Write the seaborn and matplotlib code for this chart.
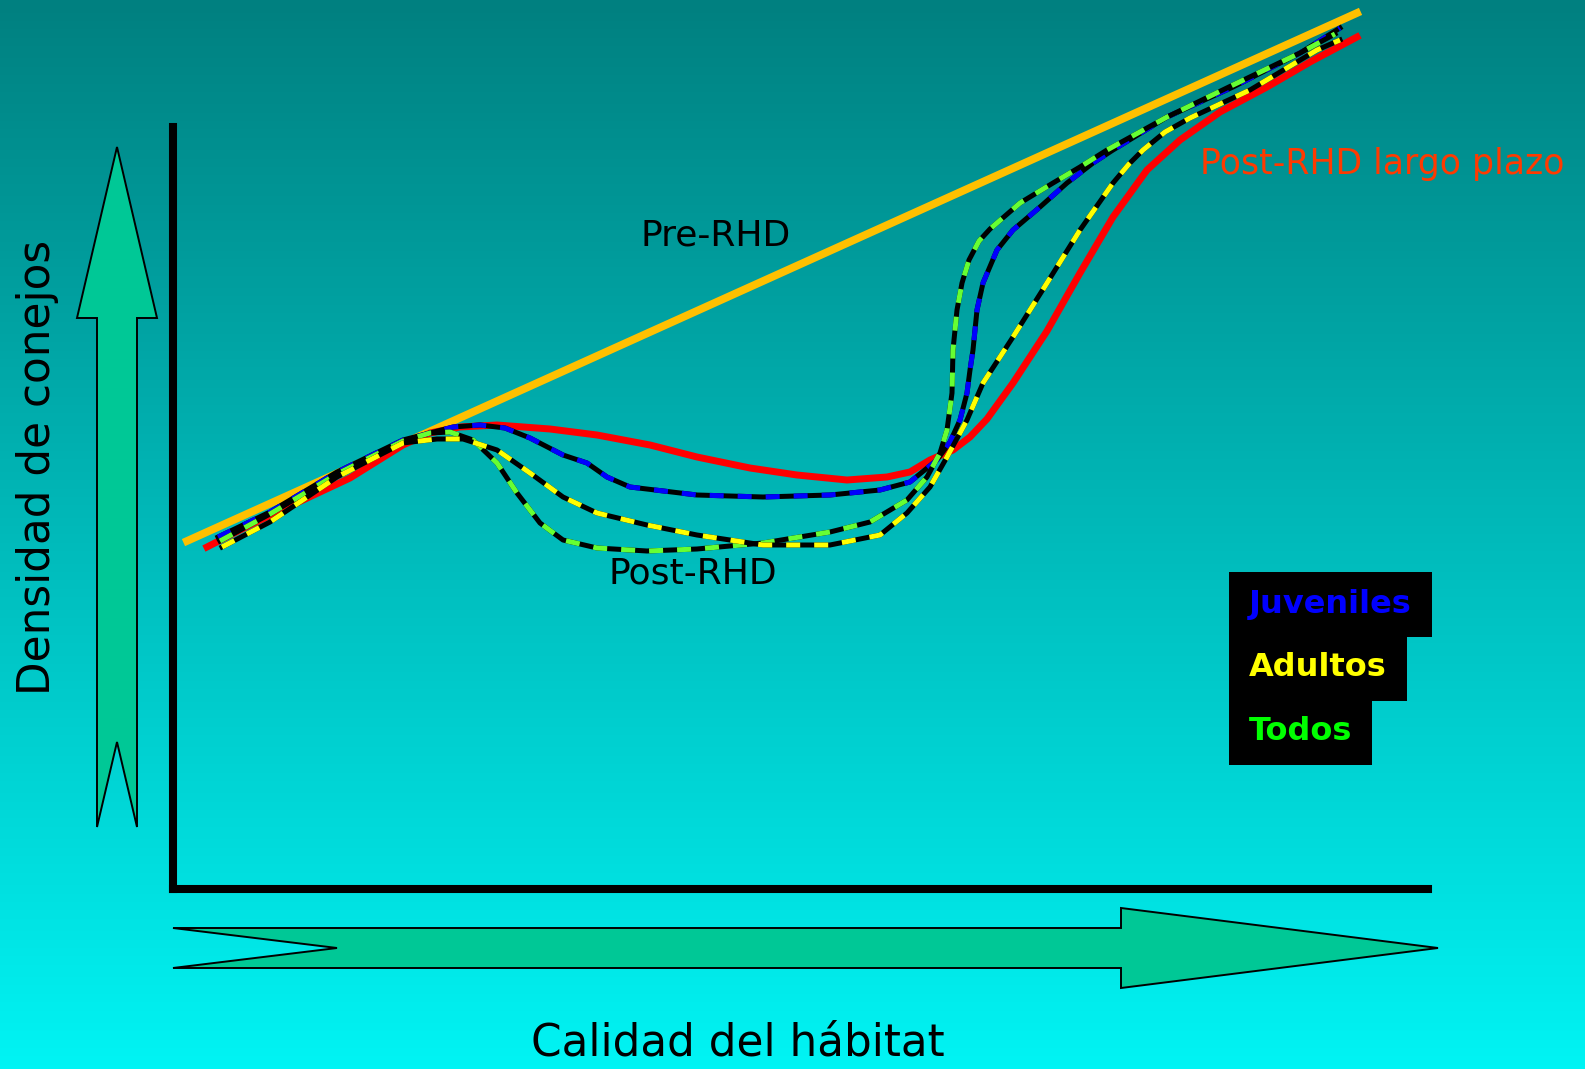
import numpy as np
import seaborn as sns
import matplotlib.pyplot as plt
from matplotlib.patches import Polygon, Rectangle

# habitat quality (x) vs rabbit density (y), arbitrary units
pre_x = [1.4, 118.4]
pre_y = [34.8, 87.6]

largo_x = [3.4, 7.7, 13.0, 17.7, 23.0, 25.7, 28.7, 32.4, 37.7, 42.4, 47.7, 52.4, 57.7, 62.4, 67.4,
           71.4, 73.7, 75.7, 78.0, 79.7, 81.4, 84.0, 87.4, 90.7, 94.0, 97.4, 100.7, 104.7, 109.4, 113.7, 118.4]
largo_y = [34.2, 36.4, 38.9, 41.1, 44.4, 45.6, 46.2, 46.4, 46.0, 45.4, 44.4, 43.2, 42.1, 41.4, 40.9,
           41.2, 41.7, 42.9, 43.9, 45.2, 47.0, 50.6, 55.8, 61.6, 67.2, 71.9, 74.9, 77.7, 80.2, 82.7, 85.2]

juv_x = [4.5, 9.7, 16.4, 23.0, 28.0, 30.7, 33.2, 35.7, 39.0, 41.4, 43.4, 45.7, 52.4, 59.0, 65.7, 70.7,
         73.7, 76.4, 77.7, 78.7, 79.4, 79.7, 80.0, 80.4, 81.0, 82.4, 84.0, 86.7, 89.4, 92.0, 94.0,
         99.4, 106.0, 112.7, 116.7]
juv_y = [35.2, 37.7, 41.7, 44.9, 46.2, 46.4, 46.1, 45.1, 43.4, 42.6, 41.2, 40.2, 39.4, 39.2, 39.4, 39.9,
         40.7, 42.9, 44.7, 46.9, 49.6, 51.9, 53.9, 57.9, 60.6, 63.9, 65.9, 68.2, 70.6, 72.6, 73.9,
         77.2, 80.2, 83.6, 86.1]

todos_x = [4.7, 9.7, 16.4, 23.0, 25.7, 27.7, 30.0, 32.4, 34.4, 36.7, 39.0, 42.4, 47.4, 52.4, 59.0, 65.7,
           69.7, 73.4, 75.4, 76.7, 77.4, 77.9, 78.0, 78.4, 78.9, 79.6, 80.6, 81.7, 84.7, 88.0, 90.7, 93.4,
           99.4, 106.0, 112.7, 116.2]
todos_y = [34.8, 37.5, 41.5, 44.8, 45.6, 45.7, 44.9, 42.6, 39.6, 36.6, 34.9, 34.1, 33.8, 34.0, 34.6, 35.7,
           36.7, 38.9, 41.2, 43.6, 45.9, 49.6, 53.9, 57.9, 60.6, 62.9, 64.8, 66.0, 68.6, 70.6, 72.2, 73.9,
           77.2, 80.4, 83.6, 85.5]

adult_x = [4.9, 9.7, 16.4, 23.0, 26.4, 29.0, 32.4, 35.7, 39.0, 42.4, 47.4, 52.4, 59.0, 65.7, 70.7,
           73.4, 75.7, 77.4, 79.4, 81.0, 84.0, 87.4, 90.7, 94.0, 95.6, 97.0, 99.2, 101.7, 107.7, 114.4, 116.7]
adult_y = [34.2, 36.7, 41.2, 44.6, 45.0, 45.0, 43.9, 41.6, 39.2, 37.6, 36.4, 35.4, 34.4, 34.4, 35.4,
           37.6, 40.2, 43.2, 46.9, 50.6, 55.2, 60.6, 65.9, 70.6, 72.5, 73.9, 75.7, 77.1, 79.9, 83.9, 84.9]

legend_labels = ["Juveniles", "Adultos", "Todos"]
legend_colors = ["#0000FF", "#FFFF00", "#00FF00"]

W, H = 1585, 1069
fig = plt.figure(figsize=(W / 100, H / 100), dpi=100)

# background gradient + decorations in pixel coordinates
bg = fig.add_axes([0, 0, 1, 1], zorder=0)
top = np.array([0, 128, 128]) / 255
bot = np.array([0, 244, 244]) / 255
t = np.linspace(0, 1, 256)[:, None]
grad = (top[None, :] * (1 - t) + bot[None, :] * t)[:, None, :]
bg.imshow(grad, extent=(0, W, H, 0), aspect="auto")
bg.set_xlim(0, W)
bg.set_ylim(H, 0)
bg.axis("off")

arrow_fill = "#00C896"
up_arrow = [(117, 147), (157, 318), (137, 318), (137, 827), (117, 742), (97, 827), (97, 318), (77, 318)]
right_arrow = [(1438, 948), (1121, 988), (1121, 968), (173, 968), (337, 948), (173, 928), (1121, 928), (1121, 908)]
for pts in (up_arrow, right_arrow):
    bg.add_patch(Polygon(pts, closed=True, facecolor=arrow_fill, edgecolor="black", lw=1.4))

font = "DejaVu Sans"
bg.text(38, 467, "Densidad de conejos", rotation=90, ha="center", va="center",
        fontsize=31.5, family=font, color="black")
bg.text(738, 1043, "Calidad del hábitat", ha="center", va="center", fontsize=31.5,
        family=font, color="black")
bg.text(716, 236, "Pre-RHD", ha="center", va="center", fontsize=26, family=font, color="black")
bg.text(693, 573, "Post-RHD", ha="center", va="center", fontsize=26, family=font, color="black")
bg.text(1200, 164, "Post-RHD largo plazo", ha="left", va="center", fontsize=25, family=font,
        color="#FF3A00")

# stepped black legend boxes
row_top = [572, 636, 700]
row_h = 64
fig.canvas.draw()
renderer = fig.canvas.get_renderer()
for i, (lab, col) in enumerate(zip(legend_labels, legend_colors)):
    txt = bg.text(1249, row_top[i] + row_h / 2, lab, ha="left", va="center", fontsize=23,
                  fontweight="bold", family=font, color=col, zorder=3)
    ext = txt.get_window_extent(renderer)
    right = ext.x1 + 20
    bg.add_patch(Rectangle((1229, row_top[i]), right - 1229, row_h + 1, facecolor="black",
                           edgecolor="none", zorder=2))

# main chart axes
ax = fig.add_axes([173 / W, 1 - 889 / H, (1428 - 173) / W, (889 - 127) / H], zorder=1)
ax.set_facecolor("none")
ax.set_xlim(0, 125.5)
ax.set_ylim(0, 76.2)
for s in ("top", "right"):
    ax.spines[s].set_visible(False)
for s in ("left", "bottom"):
    ax.spines[s].set_linewidth(5.8)
    ax.spines[s].set_color("black")
ax.set_xticks([])
ax.set_yticks([])

sns.lineplot(x=pre_x, y=pre_y, ax=ax, color="#FFC000", lw=5.6, sort=False, estimator=None)
sns.lineplot(x=largo_x, y=largo_y, ax=ax, color="#FF0000", lw=5.0, sort=False, estimator=None)

dash = (0, (2.8, 2.8))
for xs, ys, col in [(juv_x, juv_y, "#0000FF"), (todos_x, todos_y, "#66FF33"),
                    (adult_x, adult_y, "#FFFF00")]:
    sns.lineplot(x=xs, y=ys, ax=ax, color="black", lw=3.6, sort=False, estimator=None)
    sns.lineplot(x=xs, y=ys, ax=ax, color=col, lw=3.6, sort=False, estimator=None,
                 linestyle=dash)

for line in ax.lines:
    line.set_clip_on(False)
    line.set_solid_joinstyle("round")
    line.set_dash_joinstyle("round")
ax.set_xlabel("")
ax.set_ylabel("")

fig.savefig("out.png", dpi=100)
